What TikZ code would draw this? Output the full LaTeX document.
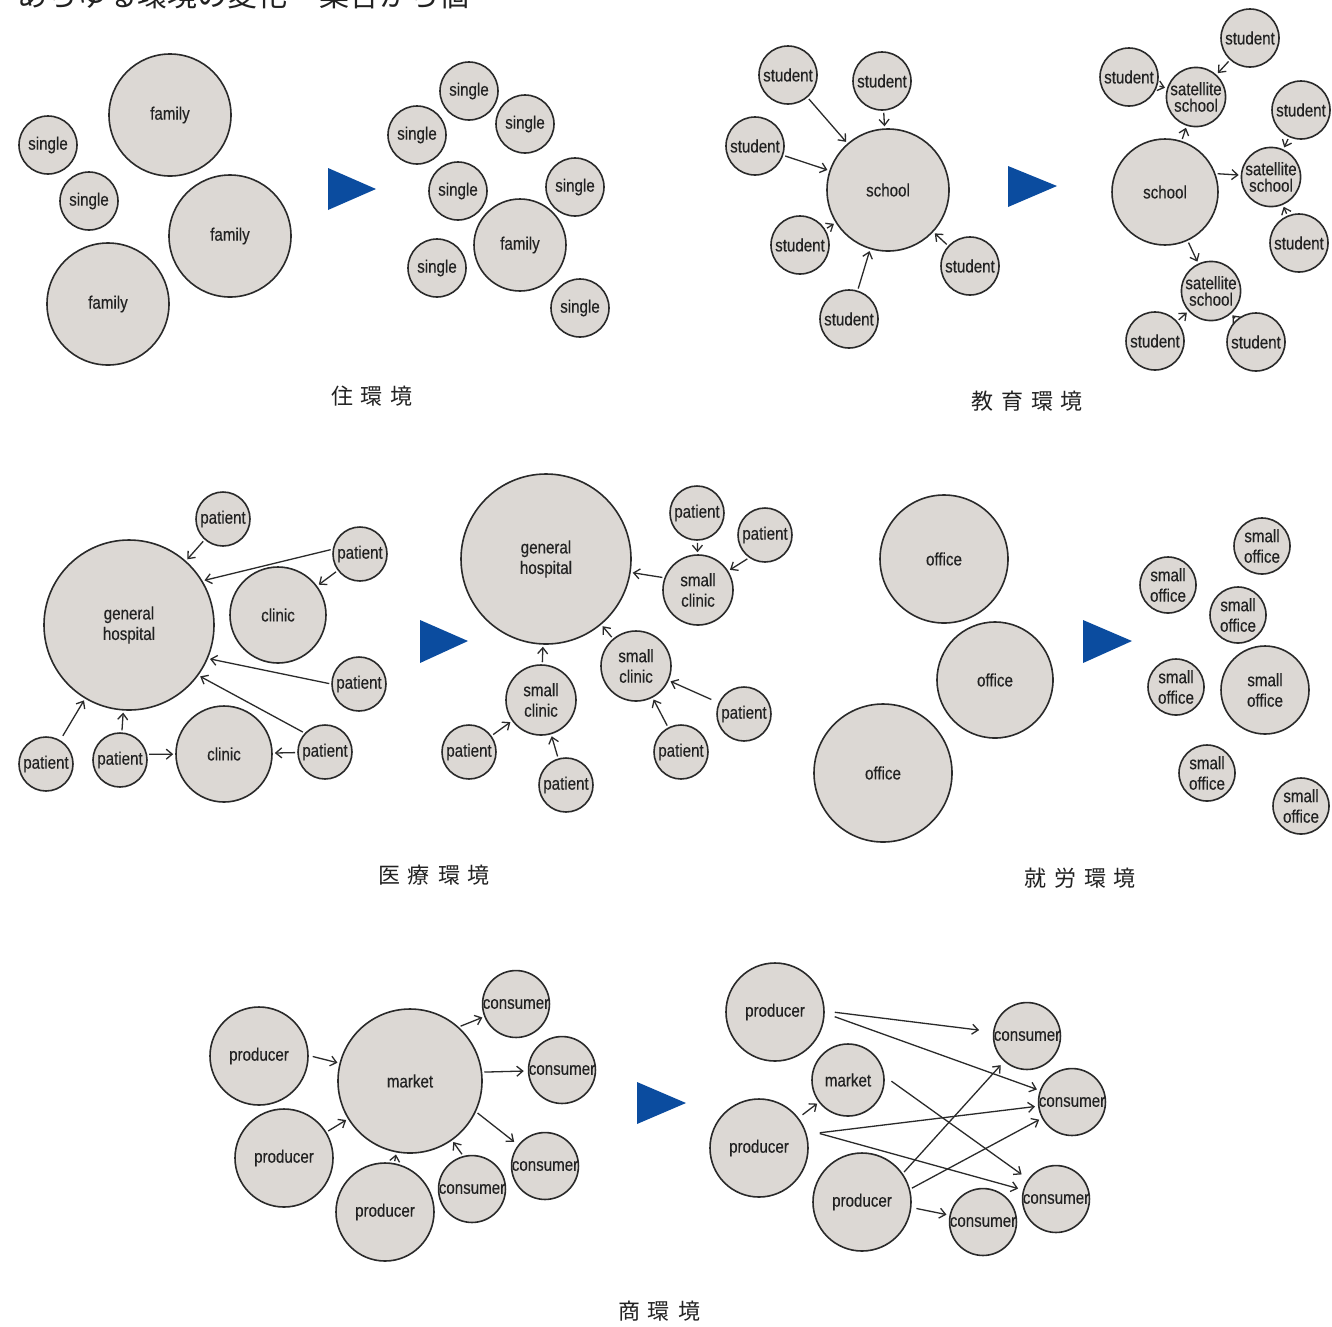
\documentclass[tikz,border=0pt]{standalone}
\usepackage{fontspec}
\setmainfont{Liberation Sans}
\newfontfamily\labfont[FakeStretch=0.84,FakeBold=0.3]{Liberation Sans}
\newfontfamily\jpfont{Noto Sans CJK JP}
\usetikzlibrary{arrows.meta}
\definecolor{nodefill}{HTML}{DCD8D4}
\definecolor{linec}{HTML}{2A2A2A}
\definecolor{txtc}{HTML}{222222}
\definecolor{tribl}{HTML}{0B4C9F}
\begin{document}
\begin{tikzpicture}[x=1pt,y=-1pt,
  nd/.style={circle, draw=linec, line width=1.6pt, fill=nodefill, inner sep=0pt, text=txtc, align=center, font=\labfont\fontsize{18}{20.5}\selectfont},
  sat/.style={nd, font=\labfont\fontsize{18}{16.5}\selectfont},
  arr/.style={draw=linec, line width=1.3pt, -{Straight Barb[length=6pt,width=10pt,line width=1.3pt]}, shorten >=2pt, shorten <=2pt},
  sec/.style={font=\jpfont\fontsize{22}{24}\selectfont, text=txtc, inner sep=0pt},
  tri/.style={fill=tribl, draw=none}]
\useasboundingbox (0,0) rectangle (1332,1326);
\clip (0,0) rectangle (1332,1326);
\fill[white] (0,0) rectangle (1332,1326);

% title (cut off at the top, as in the reference)
\node[anchor=base west, font=\jpfont\fontsize{30}{32}\selectfont, text=txtc, inner sep=0pt] (title) at (17,6) {あらゆる環境の変化\hspace{32pt}集合から個};

% ===== 住環境 =====
\node[nd, minimum size=58] (hs1) at (48,145) {single};
\node[nd, minimum size=58] (hs2) at (89,201) {single};
\node[nd, minimum size=122] (hf1) at (170,115) {family};
\node[nd, minimum size=122] (hf2) at (230,236) {family};
\node[nd, minimum size=122] (hf3) at (108,304) {family};
\fill[tri] (328,168) -- (328,210) -- (376,189) -- cycle;
\node[nd, minimum size=58] (hr1) at (469,91) {single};
\node[nd, minimum size=58] (hr2) at (417,135) {single};
\node[nd, minimum size=58] (hr3) at (525,124) {single};
\node[nd, minimum size=58] (hr4) at (458,191) {single};
\node[nd, minimum size=58] (hr5) at (575,187) {single};
\node[nd, minimum size=92] (hrf) at (520,245) {family};
\node[nd, minimum size=58] (hr6) at (437,268) {single};
\node[nd, minimum size=58] (hr7) at (580,308) {single};
\node[sec] (lab1) at (372,396) {住\hspace{8pt}環\hspace{8pt}境};

% ===== 教育環境 =====
\node[nd, minimum size=122] (sch) at (888,190) {school};
\node[nd, minimum size=58] (st1) at (788,75) {student};
\node[nd, minimum size=58] (st2) at (882,81) {student};
\node[nd, minimum size=58] (st3) at (755,146) {student};
\node[nd, minimum size=58] (st4) at (800,245) {student};
\node[nd, minimum size=58] (st5) at (970,266) {student};
\node[nd, minimum size=58] (st6) at (849,319) {student};
\draw[arr] (st1) -- (sch);
\draw[arr] (st2) -- (sch);
\draw[arr] (st3) -- (sch);
\draw[arr] (st4) -- (sch);
\draw[arr] (st5) -- (sch);
\draw[arr] (st6) -- (sch);
\fill[tri] (1008,166) -- (1008,207) -- (1057,186) -- cycle;
\node[nd, minimum size=106] (sch2) at (1165,192) {school};
\node[sat, minimum size=58] (sat1) at (1196,97) {satellite\\school};
\node[sat, minimum size=58] (sat2) at (1271,177) {satellite\\school};
\node[sat, minimum size=58] (sat3) at (1211,291) {satellite\\school};
\node[nd, minimum size=58] (stA) at (1250,38) {student};
\node[nd, minimum size=58] (stB) at (1129,77) {student};
\node[nd, minimum size=58] (stC) at (1301,110) {student};
\node[nd, minimum size=58] (stD) at (1299,243) {student};
\node[nd, minimum size=58] (stE) at (1155,341) {student};
\node[nd, minimum size=58] (stF) at (1256,342) {student};
\draw[arr] (sch2) -- (sat1);
\draw[arr] (sch2.20) -- (sat2);
\draw[arr] (sch2) -- (sat3);
\draw[arr] (stA) -- (sat1);
\draw[arr] (stB) -- (sat1);
\draw[arr] (stC) -- (sat2);
\draw[arr] (stD) -- (sat2);
\draw[arr] (stE) -- (sat3);
\draw[arr] (stF) -- (sat3);
\node[sec] (lab2) at (1027,401) {教\hspace{8pt}育\hspace{8pt}環\hspace{8pt}境};

% ===== 医療環境 =====
\node[nd, minimum size=170] (gh) at (129,625) {general\\hospital};
\node[nd, minimum size=54] (pt1) at (223,519) {patient};
\node[nd, minimum size=54] (pt2) at (360,554) {patient};
\node[nd, minimum size=96] (cl1) at (278,615) {clinic};
\node[nd, minimum size=54] (pt3) at (359,684) {patient};
\node[nd, minimum size=54] (pt5) at (46,764) {patient};
\node[nd, minimum size=54] (pt6) at (120,760) {patient};
\node[nd, minimum size=96] (cl2) at (224,754) {clinic};
\node[nd, minimum size=54] (pt4) at (325,752) {patient};
\draw[arr] (pt1) -- (gh);
\draw[arr] (pt2.170) -- (gh.31);
\draw[arr] (pt2) -- (cl1);
\draw[arr] (pt3.west) -- (gh.-23);
\draw[arr] (pt4.137) -- (gh.-36);
\draw[arr, shorten <=5pt] (pt5) -- (gh);
\draw[arr] (pt6) -- (gh);
\draw[arr] (pt6.12) -- (cl2);
\draw[arr] (pt4) -- (cl2);
\fill[tri] (420,620) -- (420,663) -- (468,641) -- cycle;
\node[nd, minimum size=170] (gh2) at (546,559) {general\\hospital};
\node[nd, minimum size=54] (pa) at (697,513) {patient};
\node[nd, minimum size=54] (pb) at (765,535) {patient};
\node[nd, minimum size=70] (sc1) at (698,590) {small\\clinic};
\node[nd, minimum size=70] (sc2) at (636,666) {small\\clinic};
\node[nd, minimum size=70] (sc3) at (541,700) {small\\clinic};
\node[nd, minimum size=54] (pc) at (744,714) {patient};
\node[nd, minimum size=54] (pd) at (681,752) {patient};
\node[nd, minimum size=54] (pe) at (469,752) {patient};
\node[nd, minimum size=54] (pf) at (566,785) {patient};
\draw[arr] (sc1.160) -- (gh2);
\draw[arr] (pa) -- (sc1);
\draw[arr] (pb.235) -- (sc1);
\draw[arr] (sc2) -- (gh2);
\draw[arr] (sc3) -- (gh2);
\draw[arr, shorten <=8pt] (pc) -- (sc2);
\draw[arr] (pd) -- (sc2);
\draw[arr] (pe) -- (sc3);
\draw[arr] (pf) -- (sc3);
\node[sec] (lab3) at (434,875) {医\hspace{8pt}療\hspace{8pt}環\hspace{8pt}境};

% ===== 就労環境 =====
\node[nd, minimum size=128] (of1) at (944,559) {office};
\node[nd, minimum size=116] (of2) at (995,680) {office};
\node[nd, minimum size=138] (of3) at (883,773) {office};
\fill[tri] (1083,620) -- (1083,663) -- (1132,641) -- cycle;
\node[nd, minimum size=56] (so1) at (1262,546) {small\\office};
\node[nd, minimum size=56] (so2) at (1168,585) {small\\office};
\node[nd, minimum size=56] (so3) at (1238,615) {small\\office};
\node[nd, minimum size=88] (so4) at (1265,690) {small\\office};
\node[nd, minimum size=56] (so5) at (1176,687) {small\\office};
\node[nd, minimum size=56] (so6) at (1207,773) {small\\office};
\node[nd, minimum size=56] (so7) at (1301,806) {small\\office};
\node[sec] (lab4) at (1080,878) {就\hspace{8pt}労\hspace{8pt}環\hspace{8pt}境};

% ===== 商環境 =====
\node[nd, minimum size=98] (p1) at (259,1056) {producer};
\node[nd, minimum size=144] (mk) at (410,1081) {market};
\node[nd, minimum size=98] (p2) at (284,1158) {producer};
\node[nd, minimum size=98] (p3) at (385,1212) {producer};
\node[nd, minimum size=66] (ca) at (516,1004) {consumer};
\node[nd, minimum size=66] (cb) at (562,1070) {consumer};
\node[nd, minimum size=66] (cc) at (545,1166) {consumer};
\node[nd, minimum size=66] (cd) at (472,1189) {consumer};
\draw[arr] ([xshift=2pt]p1.east) -- (mk);
\draw[arr] (p2) -- (mk);
\draw[arr] (p3) -- (mk);
\draw[arr] (mk.48) -- (ca);
\draw[arr, shorten >=4pt] (mk.7) -- (cb);
\draw[arr, shorten >=5pt] (mk.-25) -- (cc);
\draw[arr] (cd.105) -- (mk);
\fill[tri] (637,1082) -- (637,1124) -- (686,1103) -- cycle;
\node[nd, minimum size=98] (pA) at (775,1012) {producer};
\node[nd, minimum size=72] (mk2) at (848,1080) {market};
\node[nd, minimum size=98] (pB) at (759,1148) {producer};
\node[nd, minimum size=98] (pC) at (862,1202) {producer};
\node[nd, minimum size=66] (c1) at (1027,1036) {consumer};
\node[nd, minimum size=66] (c2) at (1072,1102) {consumer};
\node[nd, minimum size=66] (c3) at (1056,1199) {consumer};
\node[nd, minimum size=66] (c4) at (983,1222) {consumer};
\draw[arr, shorten >=14pt] ([xshift=8pt]pA.east) -- (c1);
\draw[arr, shorten >=3pt] ([xshift=8pt,yshift=-4pt]pA.east) -- (c2);
\draw[arr, shorten >=8pt] ([xshift=5pt]mk2.east) -- (c3);
\draw[arr, shorten <=5pt] (pB) -- (mk2);
\draw[arr, shorten >=3pt] ([xshift=9pt,yshift=15pt]pB.east) -- (c2);
\draw[arr, shorten >=5pt] ([xshift=9pt,yshift=15pt]pB.east) -- (c3);
\draw[arr, shorten >=5pt] (pC.35) -- (c1);
\draw[arr, shorten >=3pt] (pC.15) -- (c2);
\draw[arr, shorten >=3pt] ([xshift=3pt]pC.-7) -- (c4);
\node[sec] (lab5) at (659,1311) {商\hspace{8pt}環\hspace{8pt}境};
\end{tikzpicture}
\end{document}
